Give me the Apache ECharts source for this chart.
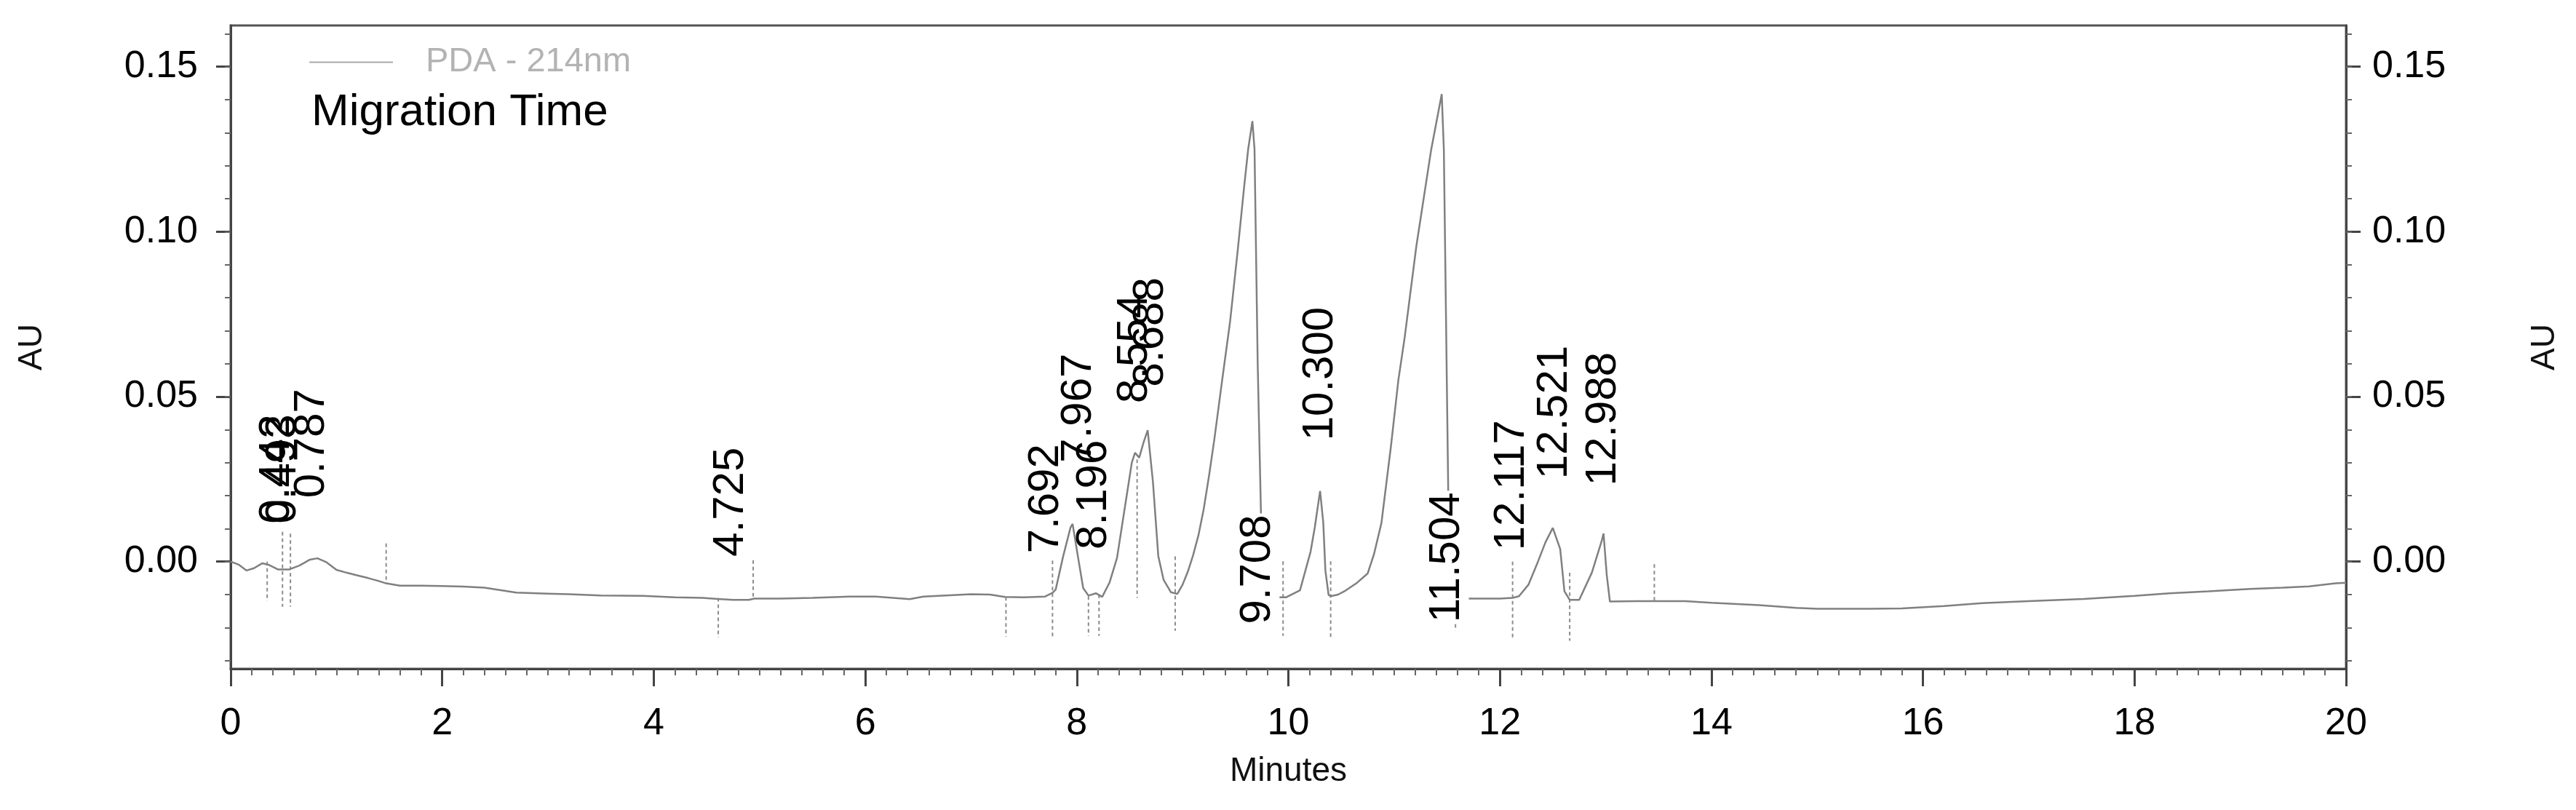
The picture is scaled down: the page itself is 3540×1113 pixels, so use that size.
<!DOCTYPE html>
<html>
<head>
<meta charset="utf-8">
<script src="https://cdn.jsdelivr.net/npm/echarts@6/dist/echarts.min.js"></script>
<style>
html,body{margin:0;padding:0;background:#fff;}
#chart{width:3540px;height:1113px;}
</style>
</head>
<body>
<div id="chart"></div>
<script>
// ---- trace (Minutes, AU) ----
const times = [0.00,0.08,0.15,0.22,0.30,0.36,0.45,0.55,0.65,0.75,0.82,0.90,1.00,1.10,1.20,1.30,1.40,1.47,1.60,1.80,2.00,2.20,2.40,2.70,3.00,3.20,3.50,3.90,4.20,4.46,4.60,4.75,4.90,4.95,5.20,5.50,5.85,6.10,6.42,6.55,7.00,7.18,7.32,7.50,7.70,7.77,7.80,7.87,7.94,7.96,8.01,8.06,8.11,8.18,8.24,8.31,8.38,8.45,8.52,8.55,8.59,8.63,8.67,8.72,8.77,8.82,8.89,8.95,9.00,9.05,9.10,9.15,9.20,9.25,9.30,9.37,9.45,9.52,9.58,9.62,9.66,9.68,9.71,9.74,9.76,9.85,9.98,10.11,10.21,10.25,10.30,10.33,10.35,10.38,10.40,10.47,10.53,10.65,10.75,10.81,10.88,10.97,11.04,11.10,11.21,11.35,11.45,11.47,11.50,11.52,11.53,11.70,12.00,12.12,12.18,12.27,12.36,12.43,12.50,12.57,12.61,12.66,12.75,12.87,12.96,12.98,13.01,13.04,13.30,13.75,14.00,14.45,14.80,15.00,15.50,15.80,16.20,16.56,17.00,17.52,18.00,18.33,18.70,19.09,19.40,19.65,19.90,20.00];
const absorbance = [0.0000,-0.0010,-0.0027,-0.0020,-0.0005,-0.0010,-0.0024,-0.0024,-0.0012,0.0006,0.0010,-0.0001,-0.0025,-0.0034,-0.0042,-0.0050,-0.0059,-0.0066,-0.0073,-0.0073,-0.0074,-0.0076,-0.0079,-0.0094,-0.0097,-0.0099,-0.0103,-0.0104,-0.0108,-0.0110,-0.0113,-0.0116,-0.0116,-0.0112,-0.0112,-0.0110,-0.0106,-0.0106,-0.0114,-0.0106,-0.0099,-0.0100,-0.0107,-0.0108,-0.0106,-0.0095,-0.0085,0.0015,0.0103,0.0114,0.0016,-0.0080,-0.0103,-0.0096,-0.0107,-0.0063,0.0011,0.0156,0.0300,0.0330,0.0315,0.0360,0.0398,0.0240,0.0017,-0.0055,-0.0093,-0.0098,-0.0070,-0.0030,0.0020,0.0080,0.0160,0.0260,0.0370,0.0540,0.0730,0.0940,0.1130,0.1250,0.1335,0.1250,0.0600,0.0160,-0.0105,-0.0108,-0.0108,-0.0087,0.0030,0.0104,0.0214,0.0118,-0.0027,-0.0101,-0.0105,-0.0100,-0.0090,-0.0064,-0.0036,0.0023,0.0117,0.0350,0.0550,0.0680,0.0956,0.1248,0.1417,0.1250,0.0500,0.0000,-0.0110,-0.0112,-0.0112,-0.0110,-0.0105,-0.0070,0.0000,0.0058,0.0102,0.0038,-0.0090,-0.0116,-0.0116,-0.0033,0.0060,0.0085,-0.0040,-0.0121,-0.0120,-0.0120,-0.0125,-0.0132,-0.0140,-0.0143,-0.0143,-0.0142,-0.0135,-0.0126,-0.0120,-0.0113,-0.0104,-0.0096,-0.0090,-0.0083,-0.0079,-0.0075,-0.0066,-0.0064];

// ---- peak labels (text, time of label centre, AU at label start) ----
const peakLabels   = ['0.442','0.493','0.787','4.725','7.692','7.967','8.196','8.554','8.688','9.708','10.300','11.504','12.117','12.521','12.988'];
const peakLabelT   = [0.434, 0.496, 0.764, 4.73, 7.71, 8.02, 8.16, 8.55, 8.70, 9.71, 10.30, 11.50, 12.11, 12.52, 12.98];
const peakLabelAU  = [0.0115,0.0115,0.0193,0.0015,0.0025,0.0300,0.0037,0.0480,0.0530,-0.0194,0.0367,-0.0189,0.0034,0.0250,0.0230];
const opaqueLabels = ['9.708','11.504'];

// ---- peak event markers (time, top AU, bottom AU) ----
const markerT      = [0.345, 0.49, 0.565, 1.47, 4.61, 4.94, 7.33, 7.77, 8.11, 8.21, 8.57, 8.93, 9.95, 10.40, 11.58, 12.12, 12.66, 13.46];
const markerTop    = [0.0000, 0.0090, 0.0085, 0.0055, -0.0110, 0.0004, -0.0107, 0.0003, -0.0105, -0.0100, 0.0310, 0.0016, 0.0001, 0.0001, -0.0110, 0.0000, -0.0034, -0.0008];
const markerBottom = [-0.0120,-0.0137,-0.0137,-0.0068,-0.0230,-0.0112,-0.0228,-0.0227,-0.0225,-0.0225,-0.0110,-0.0210,-0.0225,-0.0230,-0.0210,-0.0230,-0.0240,-0.0118];

// ---- axes ----
const xTickInterval = 2;
const yMajorTicks = [0.00, 0.05, 0.10, 0.15];
const yMinorTicks = [-0.03,-0.02,-0.01,0.00,0.01,0.02,0.03,0.04,0.05,0.06,0.07,0.08,0.09,0.10,0.11,0.12,0.13,0.14,0.15,0.16];
const yMin = -0.0325, yMax = 0.1625;

const FONT = "'Liberation Sans', Arial, Helvetica, sans-serif";
const AXIS_COLOR = '#444';

function majorY(position, margin, nameGap) {
  return {
    type: 'value', position: position, min: yMin, max: yMax,
    name: 'AU', nameLocation: 'middle', nameRotate: 90, nameGap: nameGap,
    nameTextStyle: { fontSize: 46, color: '#111', fontFamily: FONT },
    axisLine: { show: true, onZero: false, lineStyle: { color: AXIS_COLOR, width: 3 } },
    axisTick: { show: true, inside: false, length: 20, customValues: yMajorTicks, lineStyle: { color: AXIS_COLOR, width: 3 } },
    axisLabel: { show: true, customValues: yMajorTicks, margin: margin, fontSize: 52, color: '#000', fontFamily: FONT,
                 formatter: v => Number(v).toFixed(2) },
    splitLine: { show: false }
  };
}
function minorY(position) {
  return {
    type: 'value', position: position, min: yMin, max: yMax,
    axisLine: { show: false, onZero: false },
    axisTick: { show: true, inside: false, length: 8, customValues: yMinorTicks, lineStyle: { color: '#666', width: 2 } },
    axisLabel: { show: false },
    splitLine: { show: false }
  };
}

const chart = echarts.init(document.getElementById('chart'), null, { renderer: 'canvas' });
const option = {
  backgroundColor: '#ffffff',
  animation: false,
  textStyle: { fontFamily: FONT },
  title: {
    text: 'Migration Time', left: 428, top: 124, padding: 0,
    textStyle: { fontSize: 62, fontWeight: 'normal', color: '#000', fontFamily: FONT }
  },
  legend: {
    data: ['PDA - 214nm'], left: 425, top: 62, padding: 0,
    icon: 'rect', itemWidth: 115, itemHeight: 2,
    itemStyle: { color: '#aaa' },
    textStyle: { fontSize: 47, color: '#b3b3b3', fontFamily: FONT, padding: [0, 0, 0, 40] }
  },
  grid: { left: 317, right: 316, top: 35, bottom: 194, show: true, borderColor: '#555', borderWidth: 3, containLabel: false },
  xAxis: {
    type: 'value', min: 0, max: 20, interval: xTickInterval,
    name: 'Minutes', nameLocation: 'middle', nameGap: 118,
    nameTextStyle: { fontSize: 46, color: '#111', fontFamily: FONT },
    axisLine: { show: true, onZero: false, lineStyle: { color: AXIS_COLOR, width: 3 } },
    axisTick: { show: true, inside: false, length: 24, lineStyle: { color: AXIS_COLOR, width: 3 } },
    minorTick: { show: true, splitNumber: 10, length: 9, lineStyle: { color: '#666', width: 2 } },
    axisLabel: { fontSize: 52, color: '#000', margin: 50, fontFamily: FONT },
    splitLine: { show: false }, minorSplitLine: { show: false }
  },
  yAxis: [ majorY('left', 45, 250), minorY('left'), majorY('right', 36, 250), minorY('right') ],
  series: [
    {
      name: 'PDA - 214nm', type: 'line', xAxisIndex: 0, yAxisIndex: 0,
      data: times.map((t, i) => [t, absorbance[i]]),
      showSymbol: false, symbol: 'none', smooth: false,
      lineStyle: { color: '#808080', width: 2.5 }, z: 3
    },
    {
      name: 'events', type: 'custom', xAxisIndex: 0, yAxisIndex: 0,
      data: markerT.map((t, i) => [t, markerTop[i], markerBottom[i]]),
      encode: { x: 0, y: [1, 2] },
      renderItem: function (params, api) {
        const p1 = api.coord([api.value(0), api.value(1)]);
        const p2 = api.coord([api.value(0), api.value(2)]);
        return { type: 'line', shape: { x1: p1[0], y1: p1[1], x2: p2[0], y2: p2[1] },
                 style: { stroke: '#8c8c8c', lineWidth: 2, lineDash: [5, 4] } };
      },
      z: 2
    },
    {
      name: 'labels', type: 'custom', xAxisIndex: 0, yAxisIndex: 0,
      data: peakLabelT.map((t, i) => [t, peakLabelAU[i]]),
      encode: { x: 0, y: 1 },
      renderItem: function (params, api) {
        const p = api.coord([api.value(0), api.value(1)]);
        const txt = peakLabels[params.dataIndex];
        const opaque = opaqueLabels.indexOf(txt) >= 0;
        return { type: 'text', x: p[0], y: p[1], rotation: Math.PI / 2,
                 style: { text: txt, fontSize: 60, fontFamily: FONT, fill: '#000',
                          align: 'left', verticalAlign: 'middle',
                          backgroundColor: opaque ? '#fff' : null, padding: opaque ? [0, 2, 0, 2] : 0 } };
      },
      z: 5
    }
  ]
};
chart.setOption(option);
</script>
</body>
</html>
